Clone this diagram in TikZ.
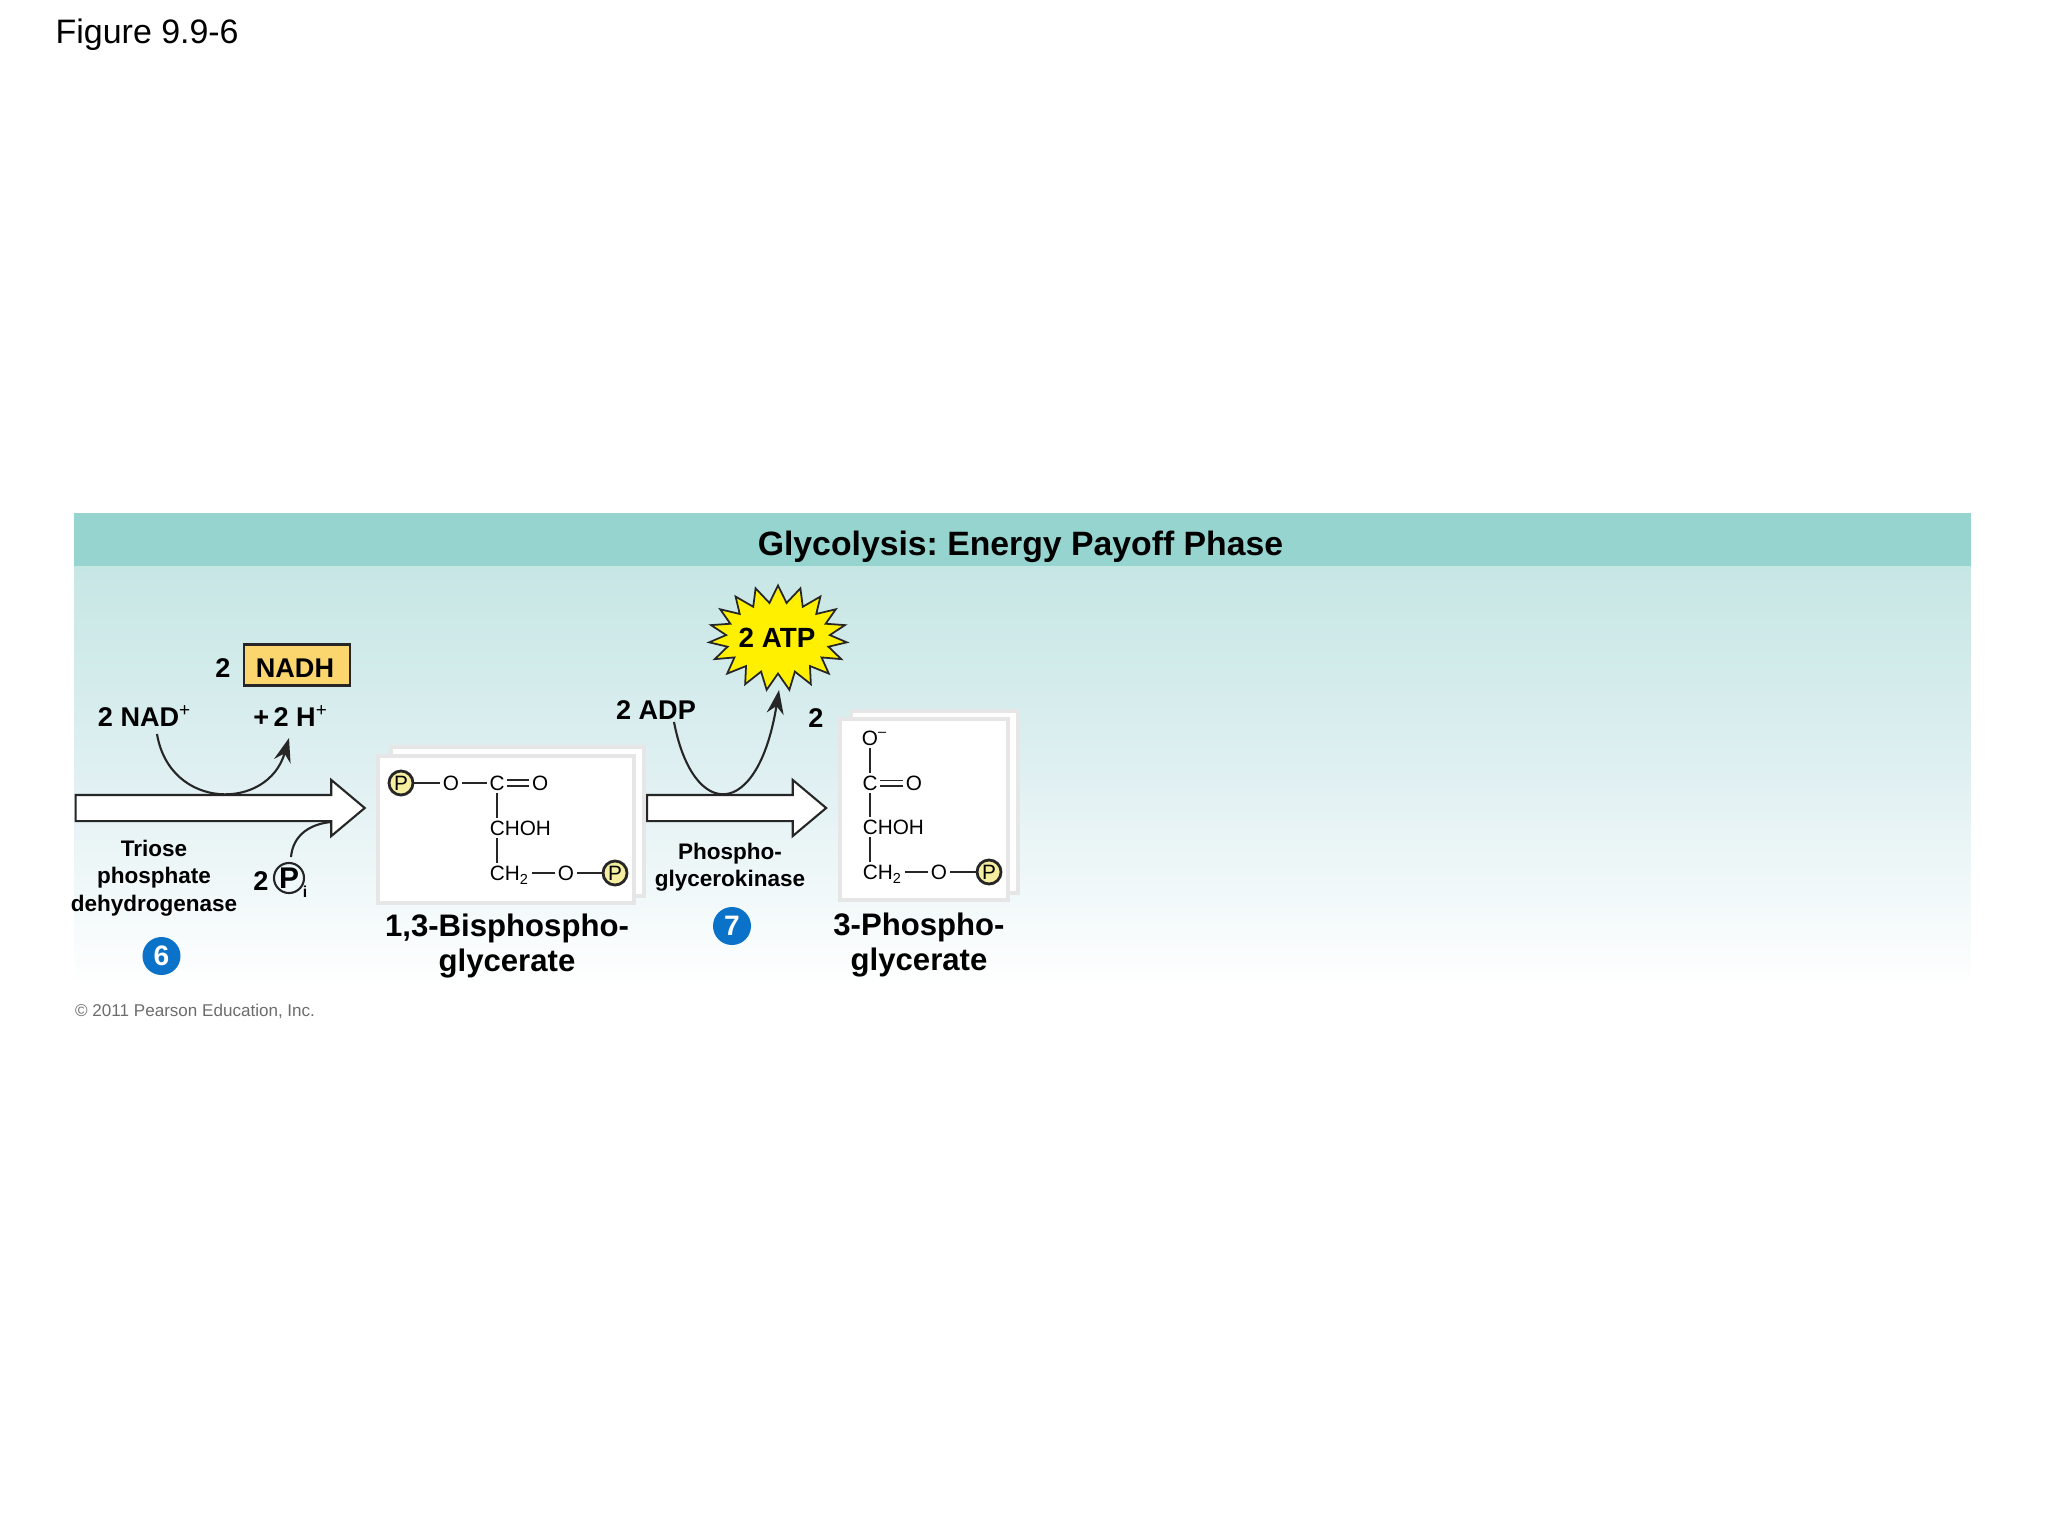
\documentclass[tikz,border=0pt]{standalone}
\usepackage{fontspec}
\setmainfont{Liberation Sans}
\usepackage{tikz}
\usetikzlibrary{positioning, arrows.meta, shapes.arrows, shapes.symbols}
\frenchspacing
\definecolor{bandteal}{HTML}{96D4D0}
\definecolor{paneltop}{HTML}{C6E6E4}
\definecolor{panelmid}{HTML}{E0F0F2}
\definecolor{nadhgold}{HTML}{FBD66E}
\definecolor{phosyellow}{HTML}{F5EDA0}
\definecolor{stepblue}{HTML}{0A72C8}
\definecolor{atpyellow}{HTML}{FFF000}
\definecolor{inkgrey}{HTML}{262626}
\definecolor{cardgrey}{HTML}{E6E6E6}
\tikzset{
    bigtext/.style={font=\fontsize{8.85}{9.8}\selectfont\bfseries, align=center, inner sep=0pt},
    midtext/.style={font=\fontsize{7.7}{9}\selectfont\bfseries, inner sep=0pt},
    enzyme/.style={font=\fontsize{6.4}{7.8}\selectfont\bfseries, align=center, inner sep=0pt},
    atom/.style={font=\fontsize{5.9}{7}\selectfont, inner sep=0.6pt, text height=0.15cm, text depth=0cm}, % same height so the bonds stay level
    phos/.style={circle, draw=inkgrey, fill=phosyellow, thick, minimum size=0.24cm, inner sep=0pt, font=\fontsize{5.9}{7}\selectfont},
    bond/.style={draw=inkgrey, line width=0.5pt},
    card/.style={rectangle, draw=cardgrey, fill=white, line width=1pt},
    flow/.style={single arrow, draw=inkgrey, fill=white, line width=0.6pt, inner sep=0pt, text height=0.24cm, text depth=0cm, single arrow head extend=0.15cm, single arrow tip angle=80, anchor=tail},
    curved/.style={-{Stealth[length=0.24cm, width=0.17cm]}, draw=inkgrey, line width=0.6pt},
    stepdot/.style={circle, fill=stepblue, text=white, minimum size=0.38cm, inner sep=0pt, font=\fontsize{8}{9}\selectfont\bfseries},
}
\begin{document}
\begin{tikzpicture}[x=0.01cm, y=-0.01cm]
    \useasboundingbox (0,0) rectangle (2048,1536);
    \node[anchor=west, inner sep=0pt, font=\fontsize{9.65}{11}\selectfont] (figlabel) at (55,35) {Figure 9.9-6};
    % band and fading panel
    \node[rectangle, fill=bandteal, minimum width=18.95cm, minimum height=0.54cm, inner sep=0pt] (band) at (1022.5,540) {};
    \node[rectangle, top color=paneltop, bottom color=white, middle color=panelmid, minimum width=18.95cm, minimum height=4.2cm, inner sep=0pt, below=-0.02cm of band] (panel) {};
    \node[inner sep=0pt, font=\fontsize{9.6}{11}\selectfont\bfseries] (title) at (1020.5,546.5) {Glycolysis: Energy Payoff Phase};

    % cards behind the formulas
    \node[card, minimum width=2.53cm, minimum height=1.49cm] (backA) at (517.5,821.5) {};
    \node[card, minimum width=2.56cm, minimum height=1.47cm] (frontA) at (506,829.5) {};
    \node[card, minimum width=1.67cm, minimum height=1.82cm] (backB) at (934.5,802) {};
    \node[card, minimum width=1.68cm, minimum height=1.81cm] (frontB) at (924,809.5) {};

    % big arrows
    \node[flow, minimum height=2.89cm, minimum width=0.54cm] (flowA) at (74.5,808) {};
    \node[flow, minimum height=1.79cm, minimum width=0.54cm] (flowB) at (646,808) {};

    % first step
    \node[midtext] (nadhnum) at (223,668) {2};
    \node[rectangle, draw=inkgrey, fill=nadhgold, line width=0.6pt, minimum width=1.06cm, minimum height=0.41cm, inner sep=0pt] (nadh) at (297,665) {};
    \node[midtext] (nadhtext) at (295,668) {NADH};
    \node[midtext] (nadplus) at (145,716) {2 NAD\textsuperscript{\mdseries +}};
    \node[midtext] (hplus) at (291,716) {+\,2 H\textsuperscript{\mdseries +}};
    \node[midtext] (pinum) at (261,881) {2};
    \node[circle, draw=inkgrey, line width=0.6pt, minimum size=0.3cm, inner sep=0pt, font=\fontsize{8.5}{9}\selectfont\bfseries] (pi) at (289,878) {P};
    \node[inner sep=0pt, font=\fontsize{4.5}{5}\selectfont\bfseries] (pisub) at (305,892) {i};
    \node[enzyme] (triose) at (154,878) {Triose\\phosphate\\dehydrogenase};
    \node[stepdot] (six) at (161.5,956) {6};
    \coordinate (nadout) at (157,734);
    \coordinate (hin) at (289,738);
    \coordinate (piout) at (291,857);
    \coordinate (piin) at (331,822);
    \draw[curved] (nadout) .. controls (170,811) and (268,811) .. (hin);
    \draw[draw=inkgrey, line width=0.6pt] (piout) .. controls (293,835) and (310,824) .. (piin);

    % second step
    \node[starburst, starburst points=19, starburst point height=0.17cm, random starburst=0, draw=inkgrey, fill=atpyellow, line width=0.5pt, minimum width=1.38cm, minimum height=1.05cm, inner sep=0pt] (atp) at (778,638) {};
    \node[inner sep=0pt, font=\fontsize{7.9}{9}\selectfont\bfseries] (atptext) at (777,638) {2 ATP};
    \node[midtext] (adp) at (656,710) {2 ADP};
    \node[midtext] (pganum) at (816,718) {2};
    \node[enzyme] (kinase) at (730,867.5) {Phospho-\\glycerokinase};
    \node[stepdot] (seven) at (732,926) {7};
    \coordinate (adpout) at (674,722);
    \coordinate (atpin) at (779,690);
    \draw[curved] (adpout) .. controls (693,821) and (758,821) .. (atpin);

    % 1,3-bisphosphoglycerate
    \node[phos] (pA) at (401,783) {P};
    \node[atom, right of=pA, node distance=0.5cm] (oA) {O};
    \node[atom, right of=oA, node distance=0.46cm] (cA) {C};
    \node[atom, right of=cA, node distance=0.43cm] (oB) {O};
    \node[atom, anchor=west] (chohA) at (487,828) {CHOH};
    \node[atom, anchor=west] (chA) at (487,873) {CH\textsubscript{2}};
    \node[atom] (oC) at (566,873) {O};
    \node[phos, right of=oC, node distance=0.49cm] (pB) {P};
    \draw[bond] (pA) -- (oA);
    \draw[bond] (oA) -- (cA);
    \draw[bond, double, double distance=1pt] (cA) -- (oB);
    \draw[bond] (cA) -- (cA |- chohA.north);
    \draw[bond] (cA |- chohA.south) -- (cA |- chA.north);
    \draw[bond] (chA) -- (oC);
    \draw[bond] (oC) -- (pB);
    \node[bigtext] (bisphos) at (507,946) {1,3-Bisphospho-\\glycerate};

    % 3-phosphoglycerate
    \node[atom] (oD) at (870,738) {O\rlap{\textsuperscript{--}}};
    \node[atom, below of=oD, node distance=0.45cm] (cB) {C};
    \node[atom, right of=cB, node distance=0.44cm] (oE) {O};
    \node[atom, anchor=west] (chohB) at (860,827) {CHOH};
    \node[atom, anchor=west] (chB) at (860,872) {CH\textsubscript{2}};
    \node[atom] (oF) at (939,872) {O};
    \node[phos, right of=oF, node distance=0.5cm] (pC) {P};
    \draw[bond] (oD) -- (cB);
    \draw[bond, double, double distance=1pt] (cB) -- (oE);
    \draw[bond] (cB) -- (cB |- chohB.north);
    \draw[bond] (cB |- chohB.south) -- (cB |- chB.north);
    \draw[bond] (chB) -- (oF);
    \draw[bond] (oF) -- (pC);
    \node[bigtext] (phosgly) at (919,945) {3-Phospho-\\glycerate};

    \node[anchor=west, inner sep=0pt, text=gray!85!black, font=\fontsize{4.85}{6}\selectfont] (copy) at (74.5,1011) {\textcopyright\ 2011 Pearson Education, Inc.};
\end{tikzpicture}
\end{document}
